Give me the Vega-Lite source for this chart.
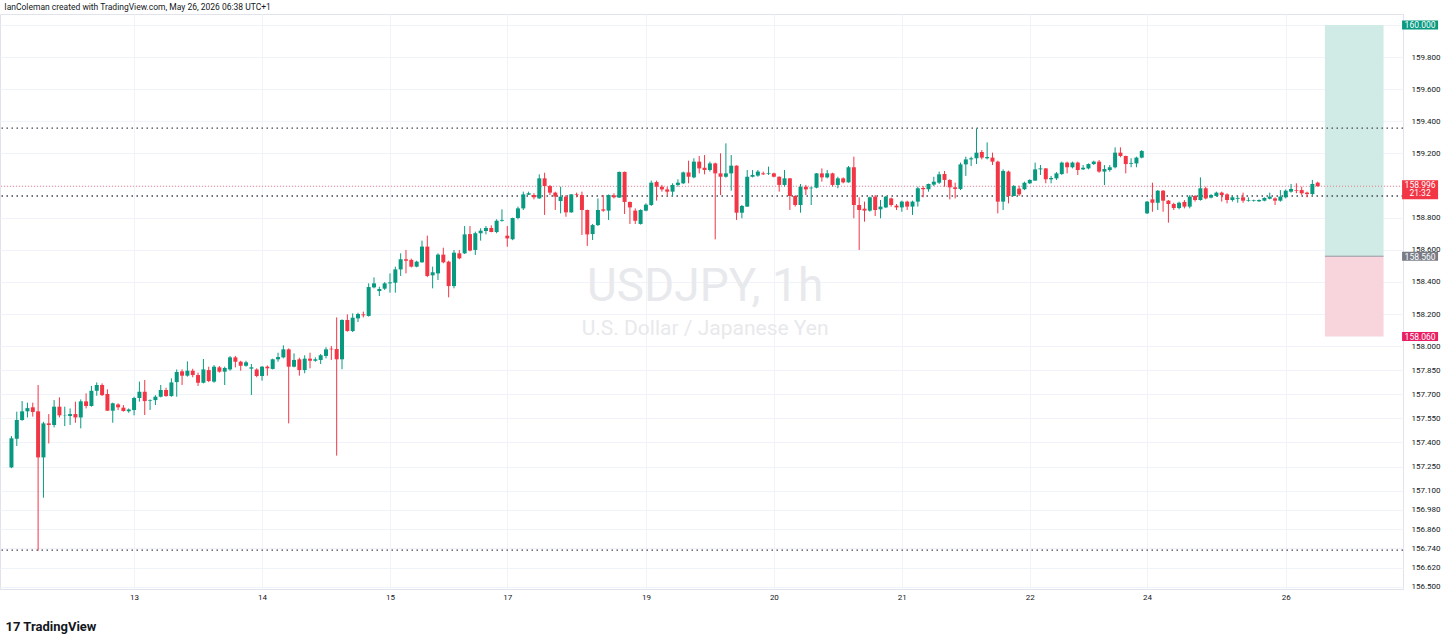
{
"$schema": "https://vega.github.io/schema/vega-lite/v6.json",
"width": 1403, "height": 575,
"autosize": {"type": "none"},
"padding": {"left": 0, "top": 14, "right": 44, "bottom": 55},
"background": "#ffffff",
"title": {"text": "IanColeman created with TradingView.com, May 26, 2026 06:38 UTC+1", "anchor": "start", "dx": 5, "offset": 3, "fontSize": 8.5, "fontWeight": "normal", "font": "Roboto", "color": "#131722"},
"config": {"view": {"stroke": "#e0e3eb"}, "font": "Roboto",
 "axisX": {"grid": true, "gridColor": "#f0f3fa", "ticks": false, "domain": false, "labelFontSize": 8, "labelFont": "Roboto", "labelColor": "#131722", "labelPadding": 4, "labelOverlap": false, "labelFlush": false},
 "axisY": {"grid": true, "gridColor": "#f0f3fa", "ticks": false, "domain": false, "labelFontSize": 8, "labelFont": "Roboto", "labelColor": "#131722", "labelPadding": 8, "labelOverlap": false, "labelFlush": false}},
"datasets": {
"zones": [{"zone": "profit", "top": 160.0, "bottom": 158.56}, {"zone": "loss", "top": 158.56, "bottom": 158.06}],
"levels": [{"p": 159.358}, {"p": 158.935}, {"p": 156.73}],
"tags": [{"kind": "target", "p": 160.0, "label": "160.000"}, {"kind": "last", "p": 158.996, "label": "158.996", "sub": "21:32"}, {"kind": "entry", "p": 158.56, "label": "158.560"}, {"kind": "stop", "p": 158.06, "label": "158.060"}],
"candles": [
{"i":0,"o":157.245,"h":157.44,"l":157.24,"c":157.426},
{"i":1,"o":157.424,"h":157.592,"l":157.378,"c":157.54},
{"i":2,"o":157.54,"h":157.658,"l":157.535,"c":157.594},
{"i":3,"o":157.594,"h":157.648,"l":157.556,"c":157.614},
{"i":4,"o":157.619,"h":157.648,"l":157.561,"c":157.59},
{"i":5,"o":157.594,"h":157.758,"l":156.726,"c":157.307},
{"i":6,"o":157.307,"h":157.529,"l":157.056,"c":157.519},
{"i":7,"o":157.519,"h":157.577,"l":157.394,"c":157.509},
{"i":8,"o":157.509,"h":157.664,"l":157.494,"c":157.623},
{"i":9,"o":157.623,"h":157.681,"l":157.556,"c":157.569},
{"i":10,"o":157.569,"h":157.623,"l":157.502,"c":157.571},
{"i":11,"o":157.565,"h":157.612,"l":157.509,"c":157.577},
{"i":12,"o":157.577,"h":157.654,"l":157.523,"c":157.556},
{"i":13,"o":157.556,"h":157.668,"l":157.488,"c":157.656},
{"i":14,"o":157.656,"h":157.706,"l":157.612,"c":157.627},
{"i":15,"o":157.627,"h":157.752,"l":157.623,"c":157.722},
{"i":16,"o":157.722,"h":157.774,"l":157.691,"c":157.758},
{"i":17,"o":157.758,"h":157.768,"l":157.689,"c":157.695},
{"i":18,"o":157.702,"h":157.731,"l":157.596,"c":157.598},
{"i":19,"o":157.598,"h":157.648,"l":157.523,"c":157.644},
{"i":20,"o":157.637,"h":157.644,"l":157.602,"c":157.619},
{"i":21,"o":157.617,"h":157.633,"l":157.592,"c":157.596},
{"i":22,"o":157.594,"h":157.612,"l":157.585,"c":157.606},
{"i":23,"o":157.602,"h":157.685,"l":157.569,"c":157.677},
{"i":24,"o":157.677,"h":157.779,"l":157.654,"c":157.716},
{"i":25,"o":157.716,"h":157.789,"l":157.571,"c":157.658},
{"i":26,"o":157.66,"h":157.668,"l":157.602,"c":157.664},
{"i":27,"o":157.664,"h":157.695,"l":157.633,"c":157.685},
{"i":28,"o":157.685,"h":157.758,"l":157.681,"c":157.727},
{"i":29,"o":157.727,"h":157.741,"l":157.685,"c":157.689},
{"i":30,"o":157.689,"h":157.799,"l":157.685,"c":157.774},
{"i":31,"o":157.776,"h":157.855,"l":157.685,"c":157.839},
{"i":32,"o":157.843,"h":157.855,"l":157.758,"c":157.816},
{"i":33,"o":157.816,"h":157.905,"l":157.81,"c":157.847},
{"i":34,"o":157.847,"h":157.859,"l":157.806,"c":157.82},
{"i":35,"o":157.82,"h":157.835,"l":157.752,"c":157.772},
{"i":36,"o":157.772,"h":157.92,"l":157.768,"c":157.855},
{"i":37,"o":157.851,"h":157.872,"l":157.776,"c":157.783},
{"i":38,"o":157.779,"h":157.882,"l":157.772,"c":157.872},
{"i":39,"o":157.868,"h":157.876,"l":157.835,"c":157.841},
{"i":40,"o":157.841,"h":157.872,"l":157.758,"c":157.864},
{"i":41,"o":157.855,"h":157.938,"l":157.847,"c":157.93},
{"i":42,"o":157.93,"h":157.939,"l":157.868,"c":157.903},
{"i":43,"o":157.903,"h":157.909,"l":157.847,"c":157.878},
{"i":44,"o":157.878,"h":157.909,"l":157.872,"c":157.899},
{"i":45,"o":157.86,"h":157.889,"l":157.696,"c":157.868},
{"i":46,"o":157.855,"h":157.862,"l":157.806,"c":157.814},
{"i":47,"o":157.814,"h":157.876,"l":157.785,"c":157.872},
{"i":48,"o":157.872,"h":157.88,"l":157.816,"c":157.862},
{"i":49,"o":157.858,"h":157.922,"l":157.855,"c":157.918},
{"i":50,"o":157.918,"h":157.959,"l":157.903,"c":157.932},
{"i":51,"o":157.93,"h":158.005,"l":157.924,"c":157.98},
{"i":52,"o":157.98,"h":157.986,"l":157.519,"c":157.872},
{"i":53,"o":157.872,"h":157.955,"l":157.868,"c":157.914},
{"i":54,"o":157.918,"h":157.928,"l":157.816,"c":157.851},
{"i":55,"o":157.851,"h":157.943,"l":157.831,"c":157.922},
{"i":56,"o":157.922,"h":157.959,"l":157.862,"c":157.909},
{"i":57,"o":157.909,"h":157.93,"l":157.903,"c":157.918},
{"i":58,"o":157.914,"h":157.951,"l":157.889,"c":157.943},
{"i":59,"o":157.939,"h":157.993,"l":157.924,"c":157.98},
{"i":60,"o":157.984,"h":158.001,"l":157.914,"c":157.98},
{"i":61,"o":157.982,"h":158.179,"l":157.318,"c":157.918},
{"i":62,"o":157.918,"h":158.167,"l":157.856,"c":158.163},
{"i":63,"o":158.163,"h":158.198,"l":158.09,"c":158.094},
{"i":64,"o":158.094,"h":158.204,"l":158.088,"c":158.177},
{"i":65,"o":158.173,"h":158.208,"l":158.15,"c":158.2},
{"i":66,"o":158.198,"h":158.215,"l":158.179,"c":158.192},
{"i":67,"o":158.188,"h":158.391,"l":158.184,"c":158.368},
{"i":68,"o":158.366,"h":158.428,"l":158.36,"c":158.391},
{"i":69,"o":158.343,"h":158.37,"l":158.312,"c":158.356},
{"i":70,"o":158.358,"h":158.399,"l":158.35,"c":158.391},
{"i":71,"o":158.391,"h":158.453,"l":158.333,"c":158.397},
{"i":72,"o":158.395,"h":158.495,"l":158.333,"c":158.478},
{"i":73,"o":158.478,"h":158.578,"l":158.437,"c":158.541},
{"i":74,"o":158.541,"h":158.599,"l":158.453,"c":158.532},
{"i":75,"o":158.537,"h":158.545,"l":158.49,"c":158.495},
{"i":76,"o":158.495,"h":158.532,"l":158.491,"c":158.526},
{"i":77,"o":158.522,"h":158.657,"l":158.52,"c":158.62},
{"i":78,"o":158.62,"h":158.688,"l":158.43,"c":158.437},
{"i":79,"o":158.441,"h":158.495,"l":158.36,"c":158.46},
{"i":80,"o":158.453,"h":158.578,"l":158.412,"c":158.57},
{"i":81,"o":158.57,"h":158.613,"l":158.516,"c":158.522},
{"i":82,"o":158.526,"h":158.532,"l":158.304,"c":158.374},
{"i":83,"o":158.374,"h":158.599,"l":158.36,"c":158.582},
{"i":84,"o":158.578,"h":158.599,"l":158.541,"c":158.547},
{"i":85,"o":158.578,"h":158.748,"l":158.574,"c":158.696},
{"i":86,"o":158.698,"h":158.748,"l":158.59,"c":158.595},
{"i":87,"o":158.599,"h":158.713,"l":158.568,"c":158.703},
{"i":88,"o":158.703,"h":158.734,"l":158.657,"c":158.719},
{"i":89,"o":158.717,"h":158.748,"l":158.696,"c":158.736},
{"i":90,"o":158.736,"h":158.752,"l":158.709,"c":158.711},
{"i":91,"o":158.711,"h":158.79,"l":158.703,"c":158.781},
{"i":92,"o":158.781,"h":158.852,"l":158.775,"c":158.786},
{"i":93,"o":158.688,"h":158.748,"l":158.619,"c":158.671},
{"i":94,"o":158.665,"h":158.8,"l":158.66,"c":158.798},
{"i":95,"o":158.798,"h":158.869,"l":158.79,"c":158.858},
{"i":96,"o":158.858,"h":158.962,"l":158.848,"c":158.945},
{"i":97,"o":158.943,"h":158.962,"l":158.941,"c":158.952},
{"i":98,"o":158.941,"h":158.952,"l":158.914,"c":158.927},
{"i":99,"o":158.92,"h":159.07,"l":158.918,"c":159.045},
{"i":100,"o":159.045,"h":159.08,"l":158.817,"c":158.997},
{"i":101,"o":158.997,"h":159.004,"l":158.941,"c":158.956},
{"i":102,"o":158.956,"h":158.962,"l":158.848,"c":158.931},
{"i":103,"o":158.904,"h":158.993,"l":158.827,"c":158.931},
{"i":104,"o":158.931,"h":158.941,"l":158.806,"c":158.833},
{"i":105,"o":158.833,"h":158.947,"l":158.831,"c":158.945},
{"i":106,"o":158.945,"h":158.956,"l":158.927,"c":158.941},
{"i":107,"o":158.941,"h":158.962,"l":158.692,"c":158.848},
{"i":108,"o":158.848,"h":158.85,"l":158.624,"c":158.696},
{"i":109,"o":158.698,"h":158.761,"l":158.661,"c":158.754},
{"i":110,"o":158.754,"h":158.92,"l":158.748,"c":158.848},
{"i":111,"o":158.852,"h":158.941,"l":158.837,"c":158.844},
{"i":112,"o":158.844,"h":158.945,"l":158.786,"c":158.941},
{"i":113,"o":158.939,"h":158.952,"l":158.92,"c":158.927},
{"i":114,"o":158.925,"h":159.087,"l":158.923,"c":159.085},
{"i":115,"o":159.085,"h":159.087,"l":158.823,"c":158.898},
{"i":116,"o":158.898,"h":158.9,"l":158.761,"c":158.864},
{"i":117,"o":158.844,"h":158.858,"l":158.761,"c":158.781},
{"i":118,"o":158.761,"h":158.852,"l":158.757,"c":158.848},
{"i":119,"o":158.844,"h":158.889,"l":158.84,"c":158.881},
{"i":120,"o":158.879,"h":159.031,"l":158.873,"c":159.018},
{"i":121,"o":159.022,"h":159.031,"l":158.906,"c":158.993},
{"i":122,"o":158.993,"h":159.004,"l":158.962,"c":158.976},
{"i":123,"o":158.976,"h":158.993,"l":158.941,"c":158.962},
{"i":124,"o":158.962,"h":159.014,"l":158.935,"c":159.004},
{"i":125,"o":159.004,"h":159.039,"l":158.993,"c":159.018},
{"i":126,"o":159.014,"h":159.087,"l":159.01,"c":159.082},
{"i":127,"o":159.082,"h":159.155,"l":159.014,"c":159.055},
{"i":128,"o":159.051,"h":159.17,"l":159.045,"c":159.149},
{"i":129,"o":159.149,"h":159.184,"l":159.076,"c":159.107},
{"i":130,"o":159.111,"h":159.19,"l":159.07,"c":159.097},
{"i":131,"o":159.097,"h":159.149,"l":159.087,"c":159.138},
{"i":132,"o":159.138,"h":159.143,"l":158.665,"c":159.076},
{"i":133,"o":159.076,"h":159.201,"l":158.941,"c":159.055},
{"i":134,"o":159.055,"h":159.263,"l":159.049,"c":159.076},
{"i":135,"o":159.076,"h":159.19,"l":158.968,"c":159.124},
{"i":136,"o":159.124,"h":159.126,"l":158.786,"c":158.831},
{"i":137,"o":158.831,"h":158.879,"l":158.796,"c":158.873},
{"i":138,"o":158.869,"h":159.097,"l":158.867,"c":159.055},
{"i":139,"o":159.055,"h":159.097,"l":159.051,"c":159.066},
{"i":140,"o":159.062,"h":159.097,"l":159.055,"c":159.087},
{"i":141,"o":159.076,"h":159.087,"l":159.066,"c":159.07},
{"i":142,"o":159.072,"h":159.118,"l":159.066,"c":159.076},
{"i":143,"o":159.076,"h":159.08,"l":159.051,"c":159.055},
{"i":144,"o":159.055,"h":159.057,"l":158.962,"c":159.004},
{"i":145,"o":159.004,"h":159.097,"l":158.993,"c":159.045},
{"i":146,"o":159.045,"h":159.047,"l":158.848,"c":158.935},
{"i":147,"o":158.935,"h":158.941,"l":158.869,"c":158.879},
{"i":148,"o":158.879,"h":159.01,"l":158.831,"c":158.993},
{"i":149,"o":158.993,"h":159.004,"l":158.941,"c":158.976},
{"i":150,"o":158.983,"h":158.993,"l":158.879,"c":158.987},
{"i":151,"o":158.987,"h":159.078,"l":158.983,"c":159.076},
{"i":152,"o":159.076,"h":159.107,"l":159.024,"c":159.051},
{"i":153,"o":159.051,"h":159.097,"l":159.045,"c":159.076},
{"i":154,"o":159.076,"h":159.08,"l":158.993,"c":159.004},
{"i":155,"o":159.004,"h":159.055,"l":158.983,"c":159.045},
{"i":156,"o":159.045,"h":159.051,"l":159.014,"c":159.02},
{"i":157,"o":159.02,"h":159.122,"l":159.018,"c":159.114},
{"i":158,"o":159.114,"h":159.18,"l":158.796,"c":158.879},
{"i":159,"o":158.879,"h":158.927,"l":158.599,"c":158.848},
{"i":160,"o":158.856,"h":158.9,"l":158.775,"c":158.844},
{"i":161,"o":158.844,"h":158.931,"l":158.837,"c":158.927},
{"i":162,"o":158.931,"h":158.941,"l":158.81,"c":158.848},
{"i":163,"o":158.852,"h":158.91,"l":158.796,"c":158.869},
{"i":164,"o":158.864,"h":158.935,"l":158.86,"c":158.931},
{"i":165,"o":158.92,"h":158.925,"l":158.869,"c":158.879},
{"i":166,"o":158.875,"h":158.885,"l":158.848,"c":158.864},
{"i":167,"o":158.864,"h":158.906,"l":158.837,"c":158.9},
{"i":168,"o":158.9,"h":158.906,"l":158.848,"c":158.869},
{"i":169,"o":158.869,"h":158.906,"l":158.817,"c":158.9},
{"i":170,"o":158.9,"h":158.993,"l":158.869,"c":158.983},
{"i":171,"o":158.985,"h":158.997,"l":158.927,"c":158.977},
{"i":172,"o":158.977,"h":159.012,"l":158.962,"c":159.01},
{"i":173,"o":159.006,"h":159.055,"l":158.997,"c":159.024},
{"i":174,"o":159.018,"h":159.087,"l":159.01,"c":159.07},
{"i":175,"o":159.072,"h":159.091,"l":158.993,"c":159.035},
{"i":176,"o":159.035,"h":159.039,"l":158.914,"c":158.989},
{"i":177,"o":158.989,"h":159.018,"l":158.92,"c":158.979},
{"i":178,"o":158.979,"h":159.143,"l":158.972,"c":159.132},
{"i":179,"o":159.132,"h":159.18,"l":159.06,"c":159.163},
{"i":180,"o":159.163,"h":159.18,"l":159.122,"c":159.17},
{"i":181,"o":159.17,"h":159.356,"l":159.134,"c":159.205},
{"i":182,"o":159.209,"h":159.221,"l":159.163,"c":159.174},
{"i":183,"o":159.17,"h":159.269,"l":159.163,"c":159.178},
{"i":184,"o":159.174,"h":159.205,"l":159.128,"c":159.149},
{"i":185,"o":159.149,"h":159.155,"l":158.827,"c":158.9},
{"i":186,"o":158.9,"h":159.101,"l":158.848,"c":159.091},
{"i":187,"o":159.087,"h":159.093,"l":158.889,"c":158.935},
{"i":188,"o":158.935,"h":159.004,"l":158.933,"c":158.997},
{"i":189,"o":158.981,"h":159.0,"l":158.935,"c":158.945},
{"i":190,"o":158.977,"h":159.024,"l":158.972,"c":159.018},
{"i":191,"o":159.014,"h":159.039,"l":159.01,"c":159.035},
{"i":192,"o":159.031,"h":159.143,"l":159.029,"c":159.101},
{"i":193,"o":159.101,"h":159.128,"l":159.066,"c":159.107},
{"i":194,"o":159.107,"h":159.109,"l":159.014,"c":159.039},
{"i":195,"o":159.039,"h":159.06,"l":159.014,"c":159.047},
{"i":196,"o":159.045,"h":159.084,"l":159.035,"c":159.076},
{"i":197,"o":159.072,"h":159.149,"l":159.066,"c":159.143},
{"i":198,"o":159.143,"h":159.149,"l":159.076,"c":159.114},
{"i":199,"o":159.114,"h":159.149,"l":159.107,"c":159.143},
{"i":200,"o":159.143,"h":159.149,"l":159.066,"c":159.097},
{"i":201,"o":159.101,"h":159.128,"l":159.097,"c":159.111},
{"i":202,"o":159.107,"h":159.138,"l":159.101,"c":159.134},
{"i":203,"o":159.134,"h":159.155,"l":159.128,"c":159.149},
{"i":204,"o":159.149,"h":159.159,"l":159.08,"c":159.087},
{"i":205,"o":159.087,"h":159.128,"l":159.003,"c":159.103},
{"i":206,"o":159.097,"h":159.128,"l":159.087,"c":159.114},
{"i":207,"o":159.114,"h":159.238,"l":159.107,"c":159.205},
{"i":208,"o":159.205,"h":159.238,"l":159.176,"c":159.184},
{"i":209,"o":159.184,"h":159.186,"l":159.076,"c":159.134},
{"i":210,"o":159.136,"h":159.17,"l":159.114,"c":159.141},
{"i":211,"o":159.138,"h":159.18,"l":159.114,"c":159.174},
{"i":212,"o":159.174,"h":159.221,"l":159.17,"c":159.215},
{"i":213,"o":158.827,"h":158.904,"l":158.823,"c":158.9},
{"i":214,"o":158.914,"h":159.018,"l":158.837,"c":158.893},
{"i":215,"o":158.893,"h":158.972,"l":158.848,"c":158.968},
{"i":216,"o":158.968,"h":158.972,"l":158.837,"c":158.906},
{"i":217,"o":158.906,"h":158.91,"l":158.769,"c":158.885},
{"i":218,"o":158.885,"h":158.893,"l":158.848,"c":158.86},
{"i":219,"o":158.86,"h":158.9,"l":158.852,"c":158.893},
{"i":220,"o":158.898,"h":158.91,"l":158.858,"c":158.869},
{"i":221,"o":158.869,"h":158.941,"l":158.858,"c":158.931},
{"i":222,"o":158.935,"h":158.941,"l":158.9,"c":158.91},
{"i":223,"o":158.91,"h":159.051,"l":158.906,"c":158.983},
{"i":224,"o":158.983,"h":158.993,"l":158.914,"c":158.92},
{"i":225,"o":158.925,"h":158.947,"l":158.92,"c":158.941},
{"i":226,"o":158.935,"h":158.962,"l":158.931,"c":158.956},
{"i":227,"o":158.956,"h":158.962,"l":158.9,"c":158.941},
{"i":228,"o":158.945,"h":158.952,"l":158.889,"c":158.91},
{"i":229,"o":158.91,"h":158.935,"l":158.9,"c":158.927},
{"i":230,"o":158.918,"h":158.935,"l":158.893,"c":158.923},
{"i":231,"o":158.927,"h":158.956,"l":158.893,"c":158.906},
{"i":232,"o":158.906,"h":158.927,"l":158.9,"c":158.91},
{"i":233,"o":158.904,"h":158.912,"l":158.9,"c":158.908},
{"i":234,"o":158.902,"h":158.914,"l":158.898,"c":158.91},
{"i":235,"o":158.906,"h":158.927,"l":158.902,"c":158.923},
{"i":236,"o":158.918,"h":158.956,"l":158.914,"c":158.931},
{"i":237,"o":158.92,"h":158.927,"l":158.879,"c":158.906},
{"i":238,"o":158.906,"h":158.972,"l":158.9,"c":158.931},
{"i":239,"o":158.927,"h":158.976,"l":158.92,"c":158.968},
{"i":240,"o":158.962,"h":159.01,"l":158.956,"c":158.979},
{"i":241,"o":158.972,"h":159.014,"l":158.952,"c":158.968},
{"i":242,"o":158.972,"h":158.993,"l":158.941,"c":158.952},
{"i":243,"o":158.956,"h":158.962,"l":158.927,"c":158.947},
{"i":244,"o":158.947,"h":159.035,"l":158.941,"c":159.01},
{"i":245,"o":159.018,"h":159.024,"l":158.993,"c":158.996}
]
},
"layer": [
{"data": {"name": "zones"}, "mark": {"type": "rect"},
 "encoding": {"x": {"datum": 246.35, "type": "quantitative", "scale": {"domain": [-1.21, 260.06], "nice": false, "zero": false}, "axis": {"values": [23, 47, 71, 93, 119, 143, 167, 191, 213, 239], "tickCount": 40, "labelExpr": "datum.value==23?'13':datum.value==47?'14':datum.value==71?'15':datum.value==93?'17':datum.value==119?'19':datum.value==143?'20':datum.value==167?'21':datum.value==191?'22':datum.value==213?'24':'26'", "labelOverlap": false, "title": "17 TradingView", "titleX": 5, "titleY": 37, "titleAlign": "left", "titleAnchor": "start", "titleBaseline": "middle", "titleFontSize": 13, "titleFontWeight": "bold", "titleFont": "Roboto", "titleColor": "#131722"}},
  "x2": {"datum": 257.35},
  "y": {"field": "top", "type": "quantitative", "scale": {"domain": [156.4875, 160.0685], "nice": false, "zero": false}, "axis": {"orient": "right", "values": [160.0, 159.8, 159.6, 159.4, 159.2, 159.0, 158.8, 158.6, 158.4, 158.2, 158.0, 157.85, 157.7, 157.55, 157.4, 157.25, 157.1, 156.98, 156.86, 156.74, 156.62, 156.5], "tickCount": 40, "format": ".3f", "labelExpr": "datum.value >= 159.99 || (datum.value > 158.99 && datum.value < 159.01) ? '' : datum.label", "labelOverlap": false, "title": null}},
  "y2": {"field": "bottom"},
  "color": {"condition": {"test": "datum.zone == 'profit'", "value": "#d0ebe6"}, "value": "#f8d4dd"}}},
{"data": {"values": [{"t": "USDJPY, 1h"}]}, "mark": {"type": "text", "fontSize": 46, "font": "Roboto", "color": "#e8e9ec", "align": "center", "baseline": "middle"},
 "encoding": {"x": {"datum": 130.1, "type": "quantitative"}, "y": {"datum": 158.368, "type": "quantitative"}, "text": {"field": "t"}}},
{"data": {"values": [{"t": "U.S. Dollar / Japanese Yen"}]}, "mark": {"type": "text", "fontSize": 21, "font": "Roboto", "color": "#e8e9ec", "align": "center", "baseline": "middle"},
 "encoding": {"x": {"datum": 130.1, "type": "quantitative"}, "y": {"datum": 158.107, "type": "quantitative"}, "text": {"field": "t"}}},
{"data": {"name": "tags"}, "transform": [{"filter": "datum.kind == 'entry'"}], "mark": {"type": "rule", "color": "#9598a1", "strokeWidth": 1},
 "encoding": {"x": {"datum": 246.35, "type": "quantitative"}, "x2": {"datum": 257.35}, "y": {"field": "p", "type": "quantitative"}}},
{"data": {"name": "levels"}, "mark": {"type": "rule", "strokeDash": [1.5, 3.5], "strokeWidth": 1.3, "color": "#434651"},
 "encoding": {"y": {"field": "p", "type": "quantitative"}}},
{"data": {"name": "tags"}, "transform": [{"filter": "datum.kind == 'last'"}], "mark": {"type": "rule", "strokeDash": [1, 2], "strokeWidth": 1, "color": "#f23645", "opacity": 0.6},
 "encoding": {"y": {"field": "p", "type": "quantitative"}}},
{"data": {"name": "candles"}, "mark": {"type": "rule", "strokeWidth": 1},
 "encoding": {
  "x": {"field": "i", "type": "quantitative"},
  "y": {"field": "l", "type": "quantitative"},
  "y2": {"field": "h"},
  "color": {"condition": {"test": "datum.c >= datum.o", "value": "#089981"}, "value": "#f23645"}}},
{"data": {"name": "candles"}, "mark": {"type": "bar", "orient": "vertical", "width": 4},
 "encoding": {
  "x": {"field": "i", "type": "quantitative"},
  "y": {"field": "o", "type": "quantitative"},
  "y2": {"field": "c"},
  "color": {"condition": {"test": "datum.c >= datum.o", "value": "#089981"}, "value": "#f23645"}}},
{"data": {"name": "tags"}, "transform": [{"filter": "datum.kind != 'last'"}], "mark": {"type": "tick", "orient": "horizontal", "size": 36, "thickness": 9, "opacity": 1},
 "encoding": {"x": {"datum": 264.2, "type": "quantitative"}, "y": {"field": "p", "type": "quantitative"},
  "color": {"condition": [{"test": "datum.kind == 'target'", "value": "#089981"}, {"test": "datum.kind == 'entry'", "value": "#787b86"}], "value": "#e91e63"}}},
{"data": {"name": "tags"}, "transform": [{"filter": "datum.kind == 'last'"}], "mark": {"type": "tick", "orient": "horizontal", "size": 36, "thickness": 19, "opacity": 1, "yOffset": 3.5, "color": "#f23645"},
 "encoding": {"x": {"datum": 264.2, "type": "quantitative"}, "y": {"field": "p", "type": "quantitative"}}},
{"data": {"name": "tags"}, "transform": [{"filter": "datum.kind != 'last'"}], "mark": {"type": "text", "fontSize": 8.5, "font": "Roboto", "color": "#ffffff", "align": "center", "baseline": "middle", "yOffset": 0.5},
 "encoding": {"x": {"datum": 264.2, "type": "quantitative"}, "y": {"field": "p", "type": "quantitative"}, "text": {"field": "label"}}},
{"data": {"name": "tags"}, "transform": [{"filter": "datum.kind == 'last'"}], "mark": {"type": "text", "fontSize": 8.5, "font": "Roboto", "color": "#ffffff", "align": "center", "baseline": "middle", "yOffset": -1.5},
 "encoding": {"x": {"datum": 264.2, "type": "quantitative"}, "y": {"field": "p", "type": "quantitative"}, "text": {"field": "label"}}},
{"data": {"name": "tags"}, "transform": [{"filter": "datum.kind == 'last'"}], "mark": {"type": "text", "fontSize": 8.5, "font": "Roboto", "color": "#ffffff", "align": "center", "baseline": "middle", "yOffset": 6.5},
 "encoding": {"x": {"datum": 264.2, "type": "quantitative"}, "y": {"field": "p", "type": "quantitative"}, "text": {"field": "sub"}}}
]
}
